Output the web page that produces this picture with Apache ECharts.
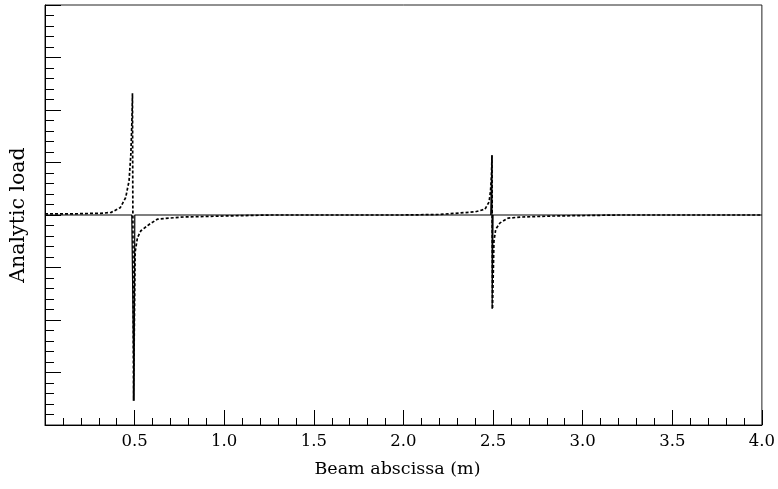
<!DOCTYPE html>
<html><head><meta charset="utf-8">
<script src="https://cdn.jsdelivr.net/npm/echarts@6/dist/echarts.min.js"></script>
<style>html,body{margin:0;padding:0;background:#fff}#c{width:778px;height:489px}</style>
</head><body><div id="c"></div>
<script>
// Exact (solid) load: flat zero with narrow spikes
var solidX = [0, 0.484, 0.497, 0.501, 2.487, 2.494, 2.495, 2.500, 4.0];
var solidY = [0, 0, -3.54, 0, 0, 1.14, -1.79, 0, 0];
// Approximate (dotted) load
var dotX = [0, 0.15, 0.25, 0.31, 0.37, 0.42, 0.45, 0.469, 0.479, 0.485, 0.488, 0.494, 0.503, 0.516, 0.535, 0.581, 0.627, 0.757, 0.98, 1.26,
            2.0, 2.2, 2.32, 2.40, 2.455, 2.478, 2.486, 2.491, 2.494, 2.497, 2.505, 2.515, 2.539, 2.584, 2.65, 2.82, 3.2, 4.0];
var dotY = [0.02, 0.02, 0.03, 0.03, 0.05, 0.14, 0.33, 0.65, 1.16, 1.8, 2.32, -3.54, -0.7, -0.43, -0.30, -0.18, -0.08, -0.04, -0.02, 0,
            0, 0.01, 0.04, 0.06, 0.11, 0.25, 0.46, 0.74, 1.14, -1.79, -0.5, -0.27, -0.15, -0.06, -0.04, -0.02, 0, 0];
var xTicks = [0.5, 1.0, 1.5, 2.0, 2.5, 3.0, 3.5, 4.0];

function zip(a, b) { return a.map(function (v, i) { return [v, b[i]]; }); }
var FONT = 'DejaVu Serif';
var chart = echarts.init(document.getElementById('c'));
chart.setOption({
  animation: false,
  backgroundColor: '#fff',
  grid: { left: 44, right: 15, top: 5, bottom: 64, show: true, borderColor: '#222', borderWidth: 1 },
  xAxis: {
    type: 'value', min: 0, max: 4, interval: 0.5,
    name: 'Beam abscissa (m)', nameLocation: 'middle', nameGap: 35,
    nameTextStyle: { fontFamily: FONT, fontSize: 17.5, color: '#000', padding: [0, 12, 0, 0] },
    axisLine: { show: true, onZero: false, lineStyle: { color: '#000', width: 1 } },
    axisTick: { show: true, inside: true, length: 15, lineStyle: { color: '#000' } },
    minorTick: { show: true, splitNumber: 5, length: 7, lineStyle: { color: '#000' } },
    splitLine: { show: false },
    axisLabel: { margin: 8, fontFamily: FONT, fontSize: 16.5, color: '#000',
      formatter: function (v) { return xTicks.indexOf(v) >= 0 ? v.toFixed(1) : ''; } }
  },
  yAxis: {
    type: 'value', min: -4, max: 4, interval: 1,
    name: 'Analytic load', nameLocation: 'middle', nameGap: 16, nameRotate: 90,
    nameTextStyle: { fontFamily: FONT, fontSize: 20.5, color: '#000' },
    axisLine: { show: true, onZero: false, lineStyle: { color: '#000', width: 1 } },
    axisTick: { show: true, inside: true, length: 16, lineStyle: { color: '#000' } },
    minorTick: { show: true, splitNumber: 5, length: 9, lineStyle: { color: '#000' } },
    splitLine: { show: false },
    axisLabel: { show: false }
  },
  series: [
    { type: 'line', data: zip(solidX, solidY), showSymbol: false, symbol: 'none',
      lineStyle: { color: '#000', width: 1.2 } },
    { type: 'line', data: zip(dotX, dotY), showSymbol: false, symbol: 'none',
      lineStyle: { color: '#000', width: 1.7, type: [3, 2] } }
  ]
});
</script></body></html>
